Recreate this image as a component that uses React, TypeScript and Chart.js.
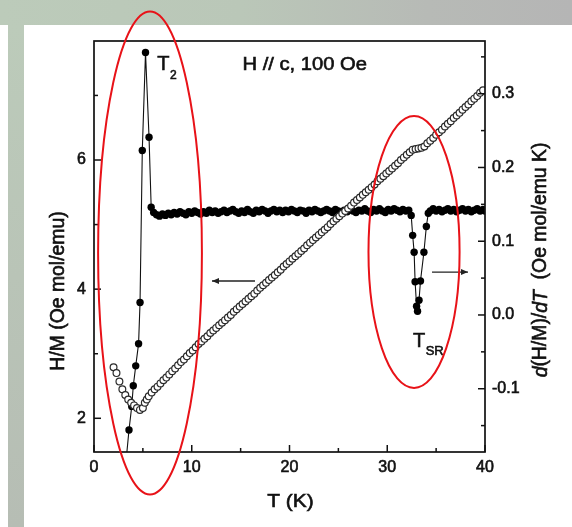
import React, { useEffect, useRef } from 'react';
import { Chart, registerables } from 'chart.js';

Chart.register(...registerables);

// ---- data: H/M (open circles, left axis) ----
const openT = [
  2.0, 2.3, 2.6, 2.9, 3.2, 3.5, 3.8, 4.1, 4.4, 4.7, 5.0, 5.2, 5.4, 5.6, 5.9,
  6.2, 6.5, 6.8, 7.1, 7.4, 7.7, 8.0, 8.3, 8.6, 8.9, 9.2, 9.5, 9.8, 10.1, 10.4, 10.7,
  11.0, 11.3, 11.6, 11.9, 12.2, 12.5, 12.8, 13.1, 13.4, 13.7, 14.0, 14.3, 14.6, 14.9,
  15.2, 15.5, 15.8, 16.1, 16.4, 16.7, 17.0, 17.3, 17.6, 17.9, 18.2, 18.5, 18.8, 19.1,
  19.4, 19.7, 20.0, 20.3, 20.6, 20.9, 21.2, 21.5, 21.8, 22.1, 22.4, 22.7, 23.0, 23.3,
  23.6, 23.9, 24.2, 24.5, 24.8, 25.1, 25.4, 25.7, 26.0, 26.3, 26.6, 26.9, 27.2, 27.5,
  27.8, 28.1, 28.4, 28.7, 29.0, 29.3, 29.6, 29.9, 30.2, 30.5, 30.8, 31.1, 31.4, 31.7,
  32.0, 32.3, 32.6, 32.9, 33.2, 33.5, 33.8, 34.1, 34.4, 34.7, 35.0, 35.3, 35.6, 35.9,
  36.2, 36.5, 36.8, 37.1, 37.4, 37.7, 38.0, 38.3, 38.6, 38.9, 39.2, 39.5, 39.8,
];
const openHM = [
  2.79, 2.70, 2.57, 2.45, 2.36, 2.29, 2.24, 2.20, 2.16, 2.13, 2.16, 2.24, 2.29, 2.34, 2.40,
  2.45, 2.49, 2.54, 2.59, 2.63, 2.68, 2.73, 2.77, 2.82, 2.87, 2.91, 2.96, 3.01, 3.05, 3.10, 3.15,
  3.19, 3.23, 3.27, 3.32, 3.36, 3.40, 3.44, 3.48, 3.52, 3.56, 3.60, 3.65, 3.69, 3.73,
  3.77, 3.81, 3.85, 3.89, 3.93, 3.98, 4.02, 4.06, 4.10, 4.14, 4.18, 4.22, 4.26, 4.30,
  4.35, 4.39, 4.43, 4.47, 4.51, 4.55, 4.59, 4.63, 4.68, 4.72, 4.76, 4.80, 4.84, 4.88,
  4.92, 4.96, 5.01, 5.05, 5.09, 5.13, 5.17, 5.21, 5.25, 5.29, 5.34, 5.38, 5.42, 5.46,
  5.50, 5.54, 5.58, 5.62, 5.67, 5.71, 5.75, 5.79, 5.83, 5.87, 5.91, 5.95, 6.00, 6.04,
  6.08, 6.12, 6.16, 6.17, 6.18, 6.19, 6.21, 6.26, 6.30, 6.34, 6.39, 6.43, 6.47, 6.52,
  6.56, 6.60, 6.65, 6.69, 6.73, 6.78, 6.82, 6.86, 6.91, 6.95, 6.99, 7.04, 7.08,
];

// ---- data: d(H/M)/dT (filled circles, right axis) ----
const fillT = [
  3.3, 3.58, 3.86, 4.02, 4.27, 4.56, 4.71, 4.94, 5.27, 5.63, 5.85,
  6.1, 6.4, 6.7, 7.0, 7.3, 7.6, 7.9, 8.2, 8.5, 8.8, 9.1, 9.4, 9.7, 10.0, 10.3, 10.6,
  10.9, 11.2, 11.5, 11.8, 12.1, 12.4, 12.7, 13.0, 13.3, 13.6, 13.9, 14.2, 14.5, 14.8,
  15.1, 15.4, 15.7, 16.0, 16.3, 16.6, 16.9, 17.2, 17.5, 17.8, 18.1, 18.4, 18.7, 19.0,
  19.3, 19.6, 19.9, 20.2, 20.5, 20.8, 21.1, 21.4, 21.7, 22.0, 22.3, 22.6, 22.9, 23.2,
  23.5, 23.8, 24.1, 24.4, 24.7, 25.0, 25.3, 25.6, 25.9, 26.2, 26.5, 26.8, 27.1, 27.4,
  27.7, 28.0, 28.3, 28.6, 28.9, 29.2, 29.5, 29.8, 30.1, 30.4, 30.7, 31.0, 31.3, 31.6,
  31.9, 32.2, 32.45, 32.6, 32.75, 32.85, 33.0, 33.1, 33.25, 33.4, 33.75, 34.0, 34.2,
  34.4, 34.7, 35.0, 35.3, 35.6, 35.9, 36.2, 36.5, 36.8, 37.1, 37.4, 37.7, 38.0, 38.3,
  38.6, 38.9, 39.2, 39.5, 39.8, 40.0,
];
const fillDeriv = [
  -0.195, -0.156, -0.124, -0.096, -0.069, -0.039, 0.017, 0.223, 0.356, 0.241, 0.146,
  0.139, 0.136, 0.134, 0.137, 0.135, 0.138, 0.136, 0.139, 0.137, 0.140, 0.138, 0.136, 0.140, 0.138, 0.141, 0.139,
  0.137, 0.140, 0.138, 0.142, 0.139, 0.141, 0.138, 0.140, 0.142, 0.139, 0.141, 0.143, 0.140, 0.138,
  0.141, 0.139, 0.143, 0.140, 0.138, 0.142, 0.140, 0.143, 0.141, 0.138, 0.141, 0.143, 0.140, 0.142,
  0.139, 0.142, 0.140, 0.143, 0.141, 0.139, 0.142, 0.141, 0.138, 0.142, 0.140, 0.143, 0.141, 0.139,
  0.141, 0.143, 0.141, 0.139, 0.143, 0.141, 0.139, 0.142, 0.140, 0.143, 0.141, 0.139, 0.142, 0.141,
  0.144, 0.141, 0.139, 0.143, 0.141, 0.144, 0.141, 0.139, 0.143, 0.141, 0.144, 0.142, 0.140, 0.143,
  0.141, 0.142, 0.135, 0.108, 0.085, 0.045, 0.012, 0.005, 0.020, 0.046, 0.085, 0.120, 0.138,
  0.141, 0.144, 0.141, 0.143, 0.140, 0.142, 0.144, 0.141, 0.143, 0.140, 0.142, 0.144, 0.141, 0.143,
  0.140, 0.142, 0.144, 0.141, 0.143, 0.141,
];

// ---- axes ----
const xRange = [0, 40];
const leftRange = [1.478, 7.843];
const rightRange = [-0.1858, 0.3715];
const xMajorTicks = [0, 10, 20, 30, 40];
const xMinorTicks = [5, 15, 25, 35];
const leftMajorTicks = [2, 4, 6];
const leftMinorTicks = [3, 5, 7];
const rightMajorTicks = [-0.1, 0, 0.1, 0.2, 0.3];
const rightMinorTicks = [-0.15, -0.05, 0.05, 0.15, 0.25, 0.35];

// ---- texts ----
const xTitle = 'T (K)';
const leftTitle = 'H/M (Oe mol/emu)';
const rightTitleParts = [
  { t: 'd', it: true },
  { t: '(H/M)/', it: false },
  { t: 'dT', it: true },
  { t: '  (Oe mol/emu K)', it: false },
];
const fieldLabel = 'H // c, 100 Oe';

const FONT = '"Liberation Sans", Arial, Helvetica, sans-serif';
const INK = '#111';

export default function App() {
  const ref = useRef<HTMLCanvasElement>(null);

  useEffect(() => {
    const canvas = ref.current!;
    const deco = {
      id: 'deco',
      beforeDraw(chart: any) {
        const ctx = chart.ctx as CanvasRenderingContext2D;
        const W = chart.width, H = chart.height;
        ctx.save();
        ctx.fillStyle = '#ffffff';
        ctx.fillRect(0, 0, W, H);
        const g = ctx.createLinearGradient(0, 0, W, 0);
        g.addColorStop(0, '#bccbba');
        g.addColorStop(0.42, '#bac7b8');
        g.addColorStop(0.75, '#b7bab6');
        g.addColorStop(1, '#b5b5b5');
        ctx.fillStyle = g;
        ctx.fillRect(0, 0, W, 25);
        const g2 = ctx.createLinearGradient(0, 25, 0, H);
        g2.addColorStop(0, '#bccbba');
        g2.addColorStop(1, '#b6bdb4');
        ctx.fillStyle = g2;
        ctx.fillRect(8, 25, 16, H - 25);
        ctx.restore();
      },
      afterDraw(chart: any) {
        const ctx = chart.ctx as CanvasRenderingContext2D;
        const a = chart.chartArea;
        const sx = chart.scales.x, sy = chart.scales.y, sy2 = chart.scales.y2;
        ctx.save();
        // frame
        ctx.strokeStyle = INK;
        ctx.lineWidth = 1.7;
        ctx.strokeRect(a.left, a.top, a.right - a.left, a.bottom - a.top);
        const seg = (x1: number, y1: number, x2: number, y2: number) => {
          ctx.beginPath(); ctx.moveTo(x1, y1); ctx.lineTo(x2, y2); ctx.stroke();
        };
        ctx.lineWidth = 1.5;
        xMajorTicks.forEach(v => { const p = sx.getPixelForValue(v); seg(p, a.bottom, p, a.bottom - 7); });
        xMinorTicks.forEach(v => { const p = sx.getPixelForValue(v); seg(p, a.bottom, p, a.bottom - 4); });
        leftMajorTicks.forEach(v => { const p = sy.getPixelForValue(v); seg(a.left, p, a.left + 7, p); });
        leftMinorTicks.forEach(v => { const p = sy.getPixelForValue(v); seg(a.left, p, a.left + 4, p); });
        rightMajorTicks.forEach(v => { const p = sy2.getPixelForValue(v); seg(a.right, p, a.right - 7, p); });
        rightMinorTicks.forEach(v => { const p = sy2.getPixelForValue(v); seg(a.right, p, a.right - 4, p); });

        ctx.fillStyle = INK;
        ctx.strokeStyle = INK;
        ctx.lineWidth = 0.6;
        const txt = (s: string, x: number, y: number) => { ctx.fillText(s, x, y); ctx.strokeText(s, x, y); };
        // x title (slightly wide, like the source)
        ctx.font = `19px ${FONT}`;
        ctx.textAlign = 'center';
        ctx.textBaseline = 'middle';
        ctx.save();
        ctx.translate((a.left + a.right) / 2 + 1, 502);
        ctx.scale(1.1, 1);
        txt(xTitle, 0, 0);
        ctx.restore();
        // left title
        ctx.save();
        ctx.translate(59, 291);
        ctx.rotate(-Math.PI / 2);
        ctx.scale(1.02, 1.05);
        txt(leftTitle, 0, 0);
        ctx.restore();
        // right title
        ctx.save();
        ctx.translate(541, 260);
        ctx.rotate(-Math.PI / 2);
        ctx.scale(1.02, 1.05);
        ctx.textAlign = 'left';
        let total = 0;
        rightTitleParts.forEach(p => {
          ctx.font = `${p.it ? 'italic ' : ''}19px ${FONT}`;
          total += ctx.measureText(p.t).width;
        });
        let cx = -total / 2;
        rightTitleParts.forEach(p => {
          ctx.font = `${p.it ? 'italic ' : ''}19px ${FONT}`;
          txt(p.t, cx, 0);
          cx += ctx.measureText(p.t).width;
        });
        ctx.restore();

        // labels in data coordinates
        ctx.textAlign = 'left';
        ctx.textBaseline = 'alphabetic';
        const sub = (main: string, s: string, T: number, v: number, size: number, ssize: number, dy: number) => {
          const px = sx.getPixelForValue(T), py = sy.getPixelForValue(v);
          ctx.font = `${size}px ${FONT}`;
          txt(main, px, py);
          const w = ctx.measureText(main).width;
          ctx.font = `${ssize}px ${FONT}`;
          txt(s, px + w + 0.5, py + dy);
        };
        sub('T', '2', 6.48, 7.394, 20, 12, 9);
        sub('T', 'SR', 32.63, 3.109, 20, 13, 8);
        ctx.save();
        ctx.translate(sx.getPixelForValue(15.2), sy.getPixelForValue(7.394));
        ctx.scale(1.12, 1);
        ctx.font = `18px ${FONT}`;
        txt(fieldLabel, 0, 0);
        ctx.restore();

        // arrows
        const arrow = (x1: number, x2: number, y: number) => {
          ctx.lineWidth = 1.3;
          ctx.strokeStyle = '#222';
          seg(x1, y, x2, y);
          const d = Math.sign(x2 - x1);
          ctx.beginPath();
          ctx.moveTo(x2, y);
          ctx.lineTo(x2 - d * 7, y - 3);
          ctx.lineTo(x2 - d * 7, y + 3);
          ctx.closePath();
          ctx.fillStyle = '#222';
          ctx.fill();
        };
        arrow(sx.getPixelForValue(16.47), sx.getPixelForValue(12.07), sy.getPixelForValue(4.126));
        arrow(sx.getPixelForValue(34.58), sx.getPixelForValue(38.26), sy2.getPixelForValue(0.0582));

        // red ellipses
        ctx.strokeStyle = 'rgb(232,18,24)';
        ctx.lineWidth = 2;
        const ell = (T: number, v: number, dT: number, dv: number) => {
          const cxp = sx.getPixelForValue(T), cyp = sy.getPixelForValue(v);
          const rx = sx.getPixelForValue(T + dT) - cxp;
          const ry = cyp - sy.getPixelForValue(v + dv);
          ctx.beginPath();
          ctx.ellipse(cxp, cyp, rx, ry, 0, 0, Math.PI * 2);
          ctx.stroke();
        };
        ell(5.73, 4.56, 5.31, 3.74);
        ell(32.74, 4.575, 4.66, 2.106);
        ctx.restore();
      },
    };

    const tickFont = { family: FONT, size: 16 };
    const chart = new Chart(canvas, {
      type: 'scatter',
      data: {
        datasets: [
          {
            label: 'H/M',
            data: openT.map((t, i) => ({ x: t, y: openHM[i] })),
            yAxisID: 'y',
            showLine: false,
            pointRadius: 3.4,
            pointBorderWidth: 1.2,
            pointBorderColor: '#2a2a2a',
            pointBackgroundColor: '#ffffff',
            order: 1,
            clip: 0,
          },
          {
            label: 'dH/M/dT',
            data: fillT.map((t, i) => ({ x: t, y: fillDeriv[i] })),
            yAxisID: 'y2',
            showLine: true,
            borderColor: '#111',
            borderWidth: 1.1,
            pointRadius: 3.7,
            pointBorderWidth: 0,
            pointBackgroundColor: '#000',
            order: 2,
            clip: 0,
          },
        ],
      },
      options: {
        responsive: false,
        devicePixelRatio: 1,
        animation: false,
        events: [],
        layout: { padding: { top: 41, left: 0, right: 0, bottom: 0 } },
        plugins: { legend: { display: false }, tooltip: { enabled: false } },
        scales: {
          x: {
            type: 'linear',
            position: 'bottom',
            min: xRange[0],
            max: xRange[1],
            grid: { display: false, drawTicks: false },
            border: { display: false },
            afterBuildTicks: (s: any) => { s.ticks = xMajorTicks.map(v => ({ value: v })); },
            afterFit: (s: any) => { s.height = 75; },
            ticks: {
              autoSkip: false,
              maxRotation: 0,
              padding: 6,
              color: INK,
              textStrokeColor: INK,
              textStrokeWidth: 0.6,
              font: tickFont,
              callback: (v: any) => String(v),
            },
          },
          y: {
            type: 'linear',
            position: 'left',
            min: leftRange[0],
            max: leftRange[1],
            grid: { display: false, drawTicks: false },
            border: { display: false },
            afterBuildTicks: (s: any) => { s.ticks = leftMajorTicks.map(v => ({ value: v })); },
            afterFit: (s: any) => { s.width = 94; },
            ticks: {
              autoSkip: false,
              padding: 8,
              color: INK,
              textStrokeColor: INK,
              textStrokeWidth: 0.6,
              font: tickFont,
              callback: (v: any) => String(v),
            },
          },
          y2: {
            type: 'linear',
            position: 'right',
            min: rightRange[0],
            max: rightRange[1],
            grid: { display: false, drawTicks: false },
            border: { display: false },
            afterBuildTicks: (s: any) => { s.ticks = rightMajorTicks.map(v => ({ value: v })); },
            afterFit: (s: any) => { s.width = 87; },
            ticks: {
              autoSkip: false,
              padding: 7,
              color: INK,
              textStrokeColor: INK,
              textStrokeWidth: 0.6,
              font: tickFont,
              callback: (v: any) => Number(v).toFixed(1),
            },
          },
        },
      },
      plugins: [deco],
    });
    return () => chart.destroy();
  }, []);

  return (
    <div style={{ position: 'fixed', left: 0, top: 0, width: 572, height: 527 }}>
      <canvas ref={ref} width={572} height={527} style={{ display: 'block', width: 572, height: 527 }} />
    </div>
  );
}
